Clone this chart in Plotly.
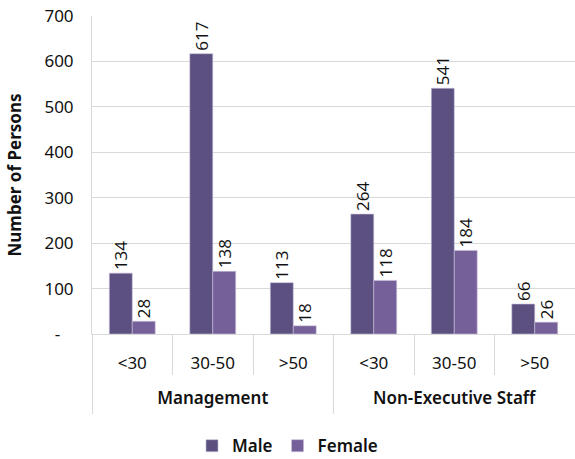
import plotly.graph_objects as go

# Categories (two-level x axis)
groups = ["Management"] * 3 + ["Non-Executive Staff"] * 3
ages = ["<30", "30-50", ">50", "<30", "30-50", ">50"]
group_names = ["Management", "Non-Executive Staff"]

# Series values
male = [134, 617, 113, 264, 541, 66]
female = [28, 138, 18, 118, 184, 26]

# Y axis ticks
y_tickvals = [0, 100, 200, 300, 400, 500, 600, 700]
y_ticktext = ["-\u00a0\u00a0\u00a0", "100", "200", "300", "400", "500", "600", "700"]

MALE_COLOR = "#5b5080"
FEMALE_COLOR = "#76609a"
GRID = "#d9d9d9"
FONT = "Noto Sans"

# unique category keys, shown with the age band only
cats = [f"{g}|{a}" for g, a in zip(groups, ages)]

fig = go.Figure()
for name, vals, color in [("Male", male, MALE_COLOR), ("Female", female, FEMALE_COLOR)]:
    fig.add_trace(
        go.Bar(
            x=cats,
            y=vals,
            name=name,
            marker=dict(color=color, line=dict(color="#c8c0d8", width=0.6)),
            text=[str(v) for v in vals],
            textposition="outside",
            textangle=-90,
            constraintext="none",
            textfont=dict(family="Open Sans", size=17, color="#111111"),
            cliponaxis=False,
        )
    )

# empty trace so the outer (group) axis gets drawn
fig.add_trace(
    go.Scatter(x=[], y=[], xaxis="x2", yaxis="y", showlegend=False, hoverinfo="skip")
)

fig.update_layout(
    width=575,
    height=459,
    barmode="group",
    bargap=0.43,
    bargroupgap=0,
    plot_bgcolor="white",
    paper_bgcolor="white",
    margin=dict(l=92, r=0, t=16, b=125, autoexpand=False),
    font=dict(family=FONT, size=15, color="#111111"),
    showlegend=True,
    legend=dict(
        orientation="h",
        x=0.5,
        xanchor="center",
        xref="container",
        y=0.028,
        yanchor="middle",
        yref="container",
        font=dict(family=FONT, size=17, color="#111111", weight=600),
        itemwidth=30,
        tracegroupgap=0,
    ),
    # outer level: group names and long dividers
    xaxis2=dict(
        overlaying="x",
        anchor="y",
        side="bottom",
        type="linear",
        range=[0, len(group_names)],
        tickvals=[i + 0.5 for i in range(len(group_names))],
        ticktext=group_names,
        ticks="",
        ticklabelstandoff=52,
        showgrid=False,
        zeroline=False,
        showline=False,
        automargin=False,
        fixedrange=True,
        tickfont=dict(family=FONT, size=17, color="#111111", weight=600),
        minor=dict(
            tickvals=list(range(len(group_names) + 1)),
            ticks="outside",
            ticklen=79,
            tickcolor=GRID,
            tickwidth=1,
            showgrid=False,
        ),
    ),
)

fig.update_yaxes(
    range=[0, 700],
    automargin=False,
    tickvals=y_tickvals,
    ticktext=y_ticktext,
    showgrid=True,
    gridcolor=GRID,
    gridwidth=1,
    showline=True,
    linecolor=GRID,
    zeroline=False,
    ticks="",
    ticklabelstandoff=14,
    tickfont=dict(family=FONT, size=17, color="#111111"),
    title=dict(
        text="<b>Number of Persons</b>",
        font=dict(family=FONT, size=17, color="#111111"),
        standoff=18,
    ),
)

fig.update_layout(
    xaxis=dict(
        type="category",
        tickvals=cats,
        ticktext=ages,
        automargin=False,
        showline=True,
        linecolor=GRID,
        showgrid=False,
        ticks="outside",
        tickson="boundaries",
        ticklen=40,
        tickcolor=GRID,
        ticklabelstandoff=14,
        tickfont=dict(family=FONT, size=17, color="#111111"),
    )
)

fig.write_html(
    "out.html",
    config={"displayModeBar": False},
    post_script="document.body.style.margin='0';",
)
